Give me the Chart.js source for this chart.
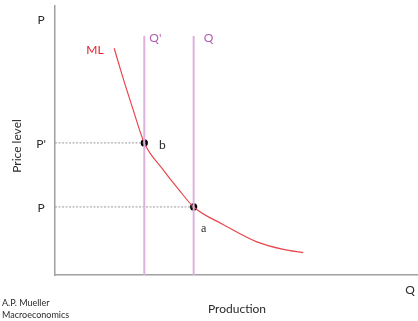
<!DOCTYPE html>
<html>
<head>
<meta charset="utf-8">
<script src="https://cdn.jsdelivr.net/npm/chart.js@4.4.0/dist/chart.umd.min.js"></script>
<style>
  html, body { margin: 0; padding: 0; background: #ffffff; }
  #wrap { width: 418px; height: 321px; position: relative; }
</style>
</head>
<body>
<div id="wrap"><canvas id="c"></canvas></div>
<script>
// ---- data (abstract units 0..100) ----
const curveQ = [16.3, 18.5, 21.3, 24.6, 29.7, 34.0, 38.2, 46.4, 55.6, 62.9, 68.4];
const curveP = [84.3, 74.3, 62.4, 49.1, 39.3, 31.9, 25.3, 18.7, 12.3, 9.5, 8.3];
const qLevels = [24.6, 38.2];
const qLabels = ["Q'", "Q"];
const pLevels = [49.1, 25.3];
const pLabels = ["P'", "P"];
const pointLabels = ["b", "a"];
const qLineTop = 88.9;
const axisMax = 100;

const curveData = curveQ.map((q, i) => ({ x: q, y: curveP[i] }));

const datasets = [];
qLevels.forEach((q) => {
  datasets.push({
    data: [{ x: q, y: 0 }, { x: q, y: qLineTop }],
    borderColor: '#dcb2dc', borderWidth: 2, pointRadius: 0, tension: 0
  });
});
pLevels.forEach((p, i) => {
  datasets.push({
    data: [{ x: 0, y: p }, { x: qLevels[i], y: p }],
    borderColor: '#9a9a9a', borderWidth: 1, borderDash: [2, 1.5], pointRadius: 0, tension: 0
  });
});
datasets.push({
  data: curveData,
  borderColor: '#e8474c', borderWidth: 1.2, pointRadius: 0,
  cubicInterpolationMode: 'monotone'
});
datasets.push({
  data: qLevels.map((q, i) => ({ x: q, y: pLevels[i] })),
  showLine: false, pointRadius: 3.6, pointBackgroundColor: '#000', pointBorderWidth: 0
});

const textPlugin = {
  id: 'texts',
  afterDraw(chart) {
    const ctx = chart.ctx;
    const xs = chart.scales.x, ys = chart.scales.y;
    const ca = chart.chartArea;
    ctx.save();
    ctx.textBaseline = 'middle';
    ctx.textAlign = 'center';
    const sans = 'Lato, "Open Sans", sans-serif';
    ctx.fillStyle = '#2a2a2a';
    ctx.font = '12px ' + sans;
    ctx.fillText('P', ca.left - 14, 20);
    ctx.fillText('Q', 410, 290);
    pLabels.forEach((t, i) => {
      ctx.fillText(t, ca.left - 14, ys.getPixelForValue(pLevels[i]) + 1);
    });
    ctx.fillStyle = '#b25cb2';
    ctx.font = '12px ' + sans;
    qLabels.forEach((t, i) => {
      ctx.fillText(t, xs.getPixelForValue(qLevels[i]) + (i === 0 ? 11 : 15), 38);
    });
    ctx.fillStyle = '#e0202a';
    ctx.font = '12px ' + sans;
    ctx.fillText('ML', 95, 50);
    ctx.fillStyle = '#2a2a2a';
    ctx.font = '12px ' + sans;
    ctx.fillText(pointLabels[0], xs.getPixelForValue(qLevels[0]) + 18, ys.getPixelForValue(pLevels[0]) + 2);
    ctx.font = '12px "Liberation Serif", serif';
    ctx.fillText(pointLabels[1], xs.getPixelForValue(qLevels[1]) + 10, ys.getPixelForValue(pLevels[1]) + 22);
    ctx.font = '12px ' + sans;
    ctx.fillText('Production', 237, 309);
    ctx.save();
    ctx.translate(17, 146);
    ctx.rotate(-Math.PI / 2);
    ctx.fillText('Price level', 0, 0);
    ctx.restore();
    ctx.textAlign = 'left';
    ctx.font = '9px ' + sans;
    ctx.fillText('A.P. Mueller', 2, 303);
    ctx.fillText('Macroeconomics', 2, 315);
    ctx.restore();
  }
};

new Chart(document.getElementById('c'), {
  type: 'line',
  data: { datasets },
  options: {
    responsive: true,
    maintainAspectRatio: false,
    animation: false,
    events: [],
    layout: { autoPadding: false, padding: { left: 55, right: 0, top: 6, bottom: 46 } },
    plugins: { legend: { display: false }, tooltip: { enabled: false }, title: { display: false } },
    scales: {
      x: {
        type: 'linear', min: 0, max: axisMax,
        grid: { display: false, drawTicks: false },
        ticks: { display: false },
        border: { display: true, color: '#a0a0a0', width: 1.5 }
      },
      y: {
        type: 'linear', min: 0, max: axisMax,
        grid: { display: false, drawTicks: false },
        ticks: { display: false },
        border: { display: true, color: '#a0a0a0', width: 1.5 }
      }
    }
  },
  plugins: [textPlugin]
});
</script>
</body>
</html>
